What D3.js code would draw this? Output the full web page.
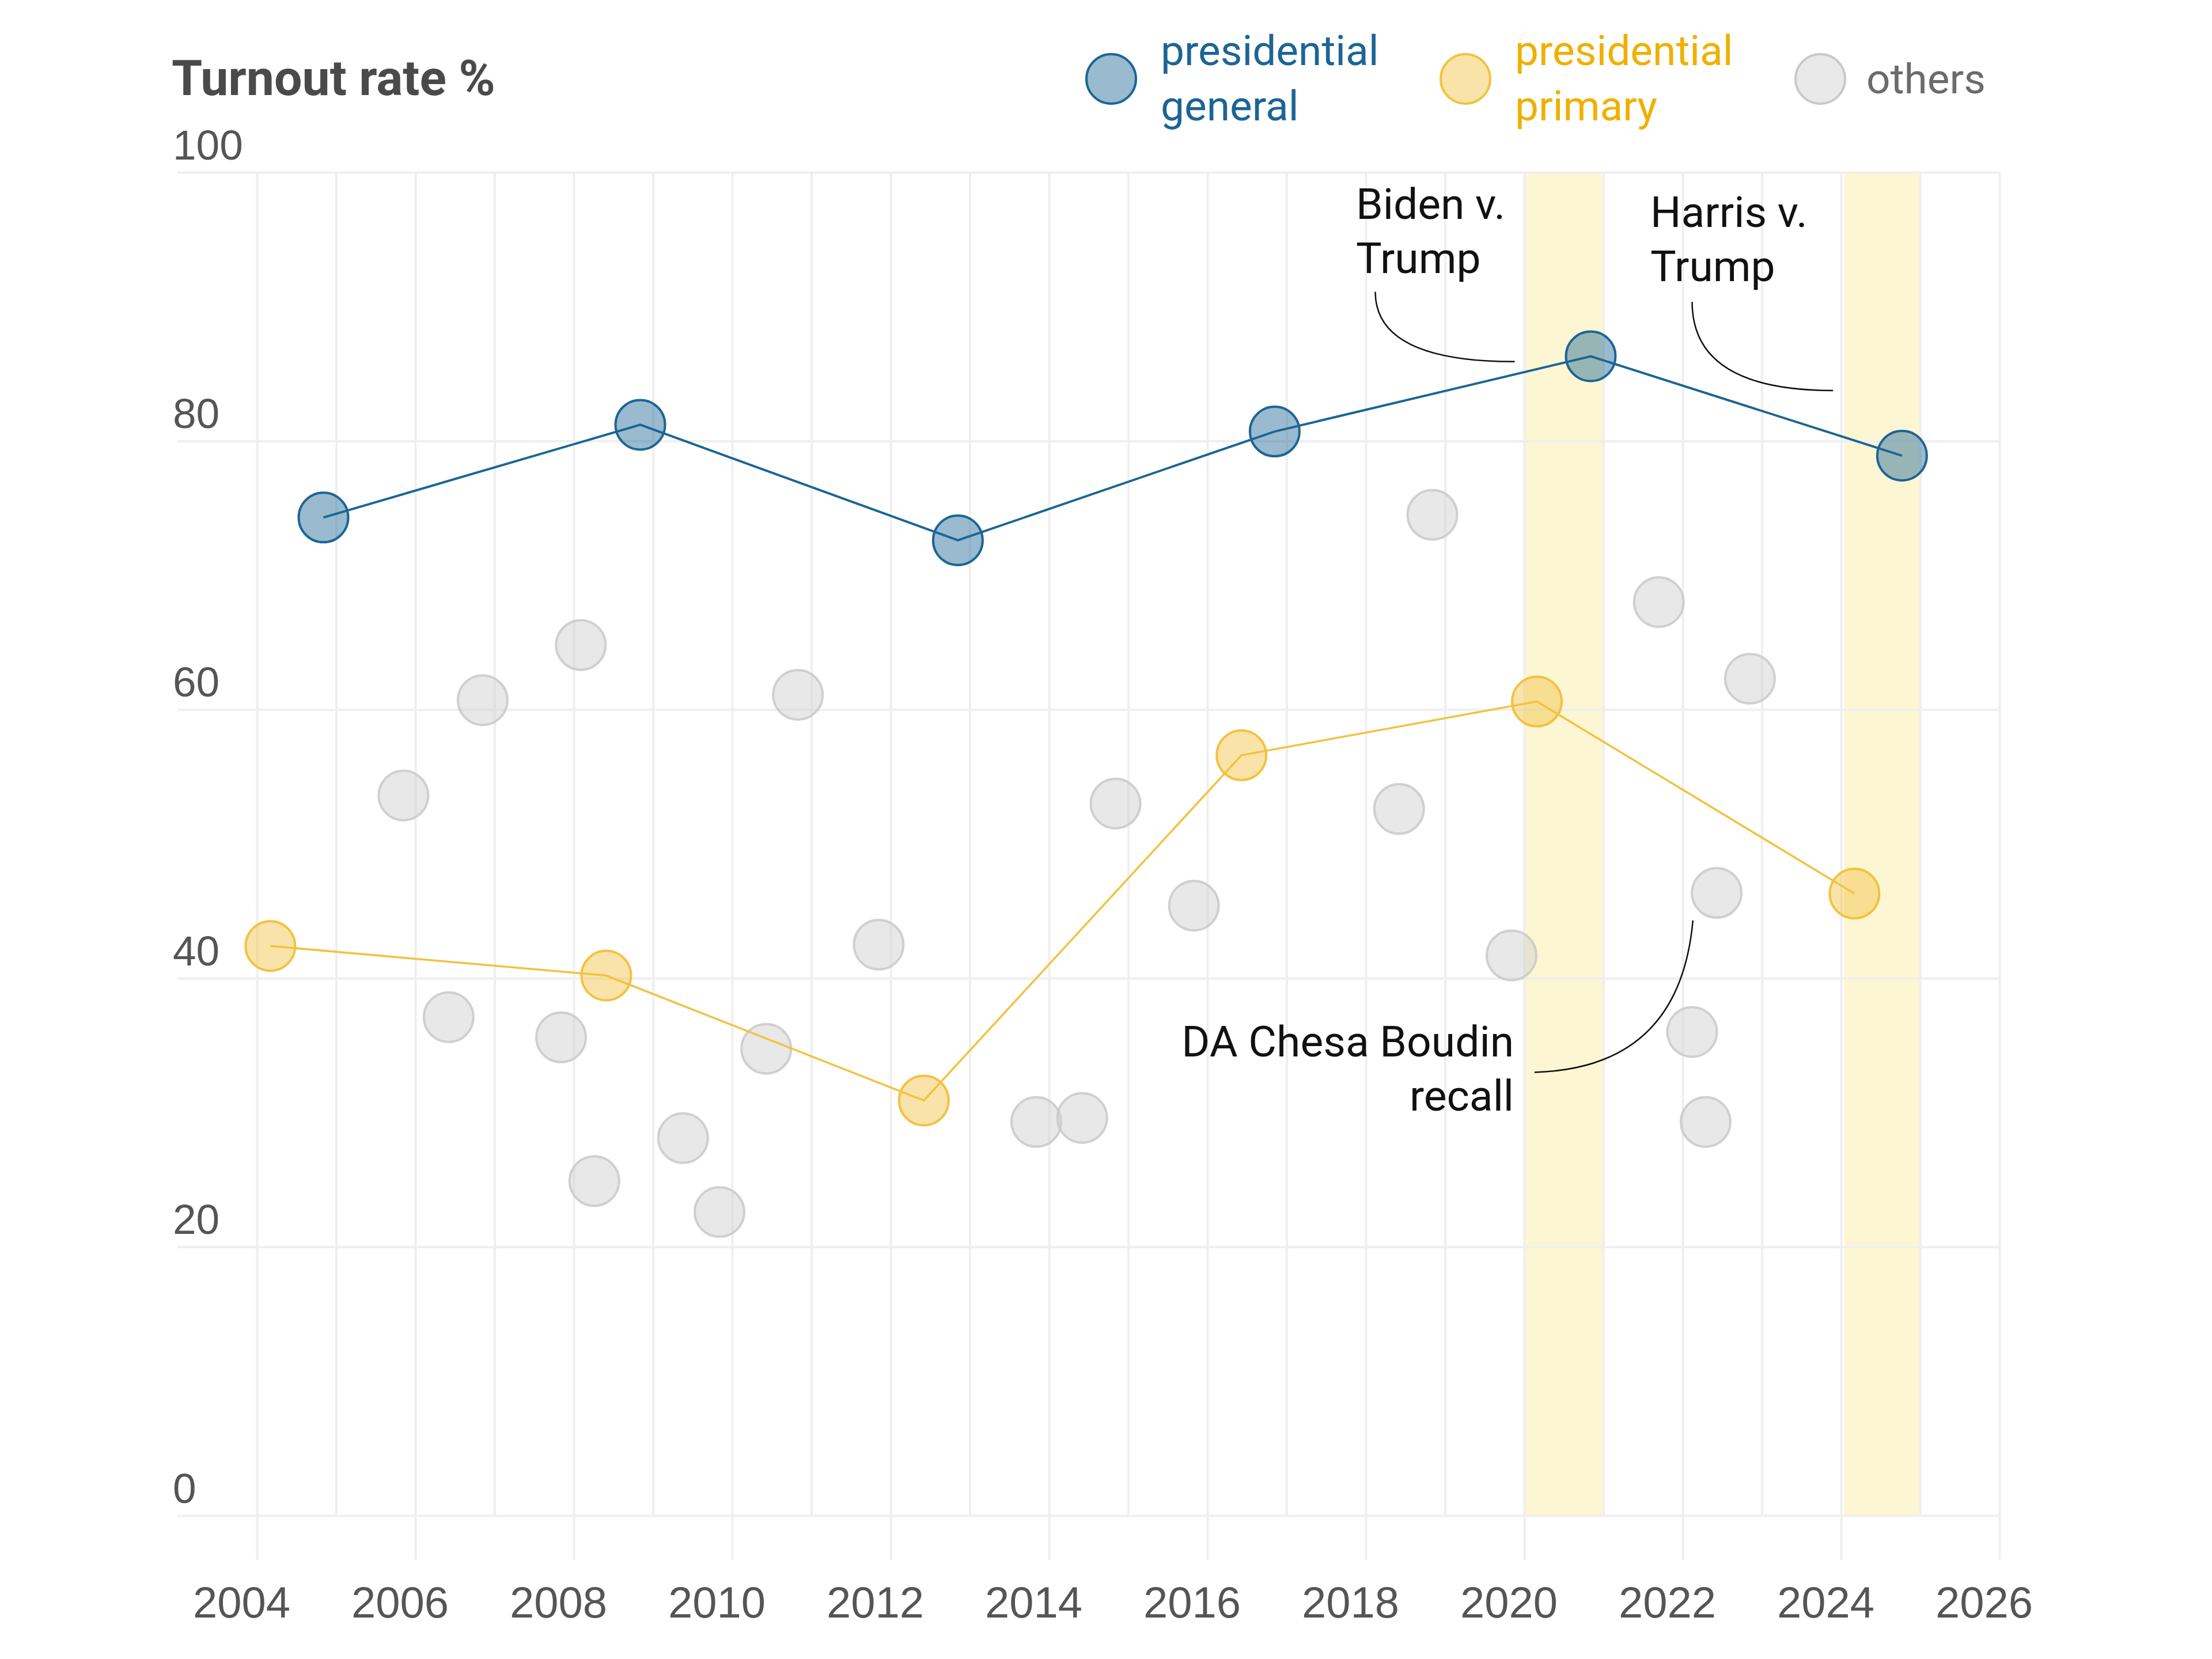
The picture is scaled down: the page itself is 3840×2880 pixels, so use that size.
<!DOCTYPE html>
<html>
<head>
<meta charset="utf-8">
<script src="https://cdn.jsdelivr.net/npm/d3@7"></script>
<style>
  body { margin: 0; background: #fff; }
  svg { font-family: Roboto, "Noto Sans", sans-serif; }
  .grid line { stroke: #efefef; stroke-width: 4; }
  .axis text { fill: #555; }
</style>
</head>
<body>
<div id="chart"></div>
<script>
// election dates as decimal years, turnout in %
var generalYears = [2004.84, 2008.84, 2012.85, 2016.85, 2020.84, 2024.77];
var generalTurnout = [74.3, 81.2, 72.6, 80.7, 86.3, 78.9];

var primaryYears = [2004.17, 2008.41, 2012.42, 2016.43, 2020.16, 2024.17];
var primaryTurnout = [42.4, 40.2, 30.9, 56.6, 60.6, 46.3];

var otherYears = [2005.85, 2006.42, 2006.85, 2007.84, 2008.09, 2008.26, 2009.38, 2009.84,
  2010.43, 2010.83, 2011.85, 2013.84, 2014.42, 2014.84, 2015.83, 2018.42, 2018.84,
  2019.84, 2021.70, 2022.12, 2022.29, 2022.43, 2022.85];
var otherTurnout = [53.6, 37.1, 60.7, 35.6, 64.8, 24.9, 28.1, 22.6,
  34.75, 61.1, 42.5, 29.3, 29.6, 53.0, 45.4, 52.6, 74.5,
  41.7, 68.0, 36.0, 29.3, 46.35, 62.3];

var highlightStart = [2020.0, 2024.04];
var highlightEnd = [2021.0, 2025.0];

var yTicks = [0, 20, 40, 60, 80, 100];
var xLabelTicks = d3.range(2004, 2027, 2);
var xGridTicks = d3.range(2004, 2027, 1);

var legendLabels = [["presidential", "general"], ["presidential", "primary"], ["others"]];

var W = 3840, H = 2880;
var margin = { top: 299, right: 369, bottom: 249, left: 446 };
var width = W - margin.left - margin.right,
  height = H - margin.top - margin.bottom;

var blue = "#1c6595", yellow = "#f2c240", yellowText = "#efb000", grey = "#c9c9c9";

var svg = d3.select("#chart").append("svg")
  .attr("width", W)
  .attr("height", H);

var g = svg.append("g")
  .attr("transform", "translate(" + margin.left + "," + margin.top + ")");

var x = d3.scaleLinear().domain([2004, 2026]).range([0, width]);
var y = d3.scaleLinear().domain([0, 100]).range([height, 0]);

// highlighted election years
g.selectAll(".band")
  .data(highlightStart)
  .enter().append("rect")
  .attr("class", "band")
  .attr("x", function (d) { return x(d); })
  .attr("width", function (d, i) { return x(highlightEnd[i]) - x(d); })
  .attr("y", y(100))
  .attr("height", y(0) - y(100))
  .attr("fill", "#fdf6d2");

// yearly vertical grid
g.append("g")
  .attr("class", "grid")
  .call(d3.axisBottom(x).tickValues(xGridTicks).tickSize(height).tickFormat(""))
  .call(function (s) { s.select(".domain").remove(); });

// horizontal grid + y labels
var yOver = 138;
var yAxis = g.append("g")
  .attr("class", "grid axis")
  .attr("transform", "translate(" + (-yOver) + ",0)")
  .call(d3.axisLeft(y).tickValues(yTicks).tickSize(-(width + yOver)))
  .call(function (s) { s.select(".domain").remove(); });
yAxis.selectAll("text")
  .attr("x", -8)
  .attr("dy", -23)
  .attr("text-anchor", "start")
  .attr("font-size", 73);

// x axis: ticks every two years below the baseline
var xAxis = g.append("g")
  .attr("class", "grid axis")
  .attr("transform", "translate(0," + height + ")")
  .call(d3.axisBottom(x).tickValues(xLabelTicks).tickSize(77).tickPadding(46).tickFormat(d3.format("d")))
  .call(function (s) { s.select(".domain").remove(); });
xAxis.selectAll("text")
  .attr("dx", -27)
  .attr("font-size", 76);

// others
var others = otherYears.map(function (d, i) { return { year: d, val: otherTurnout[i] }; });
g.selectAll(".other")
  .data(others)
  .enter().append("circle")
  .attr("class", "other")
  .attr("cx", function (d) { return x(d.year); })
  .attr("cy", function (d) { return y(d.val); })
  .attr("r", 43)
  .attr("fill", "#cfcfcf")
  .attr("fill-opacity", 0.48)
  .attr("stroke", grey)
  .attr("stroke-opacity", 0.85)
  .attr("stroke-width", 4);

var line = d3.line()
  .x(function (d) { return x(d.year); })
  .y(function (d) { return y(d.val); });

function series(years, vals, color, cls, lw) {
  var data = years.map(function (d, i) { return { year: d, val: vals[i] }; });
  g.append("path")
    .datum(data)
    .attr("fill", "none")
    .attr("stroke", color)
    .attr("stroke-width", lw)
    .attr("d", line);
  g.selectAll("." + cls)
    .data(data)
    .enter().append("circle")
    .attr("class", cls)
    .attr("cx", function (d) { return x(d.year); })
    .attr("cy", function (d) { return y(d.val); })
    .attr("r", 43)
    .attr("fill", color)
    .attr("fill-opacity", 0.45)
    .attr("stroke", color)
    .attr("stroke-width", 4);
}

series(primaryYears, primaryTurnout, yellow, "primary", 3.5);
series(generalYears, generalTurnout, blue, "general", 4);

// annotations (anchor in data units)
var notes = [
  { lines: ["Biden v.", "Trump"], tx: 2017.876, ty: 96.53, anchor: "start",
    from: [2018.12, 91.1], ctrl: [2018.12, 85.9], to: [2019.88, 85.9] },
  { lines: ["Harris v.", "Trump"], tx: 2021.593, ty: 95.93, anchor: "start",
    from: [2022.12, 90.35], ctrl: [2022.12, 83.75], to: [2023.90, 83.75] },
  { lines: ["DA Chesa Boudin", "recall"], tx: 2019.87, ty: 34.18, anchor: "end",
    from: [2020.13, 33.0], ctrl: [2021.96, 33.3], to: [2022.13, 44.3] }
];

notes.forEach(function (n) {
  var t = g.append("text")
    .attr("x", x(n.tx))
    .attr("y", y(n.ty))
    .attr("text-anchor", n.anchor)
    .attr("font-size", 75)
    .attr("fill", "#111");
  n.lines.forEach(function (l, i) {
    t.append("tspan").attr("x", x(n.tx)).attr("dy", i ? 94 : 0).text(l);
  });
  var p = d3.path();
  p.moveTo(x(n.from[0]), y(n.from[1]));
  p.quadraticCurveTo(x(n.ctrl[0]), y(n.ctrl[1]), x(n.to[0]), y(n.to[1]));
  g.append("path")
    .attr("d", p.toString())
    .attr("fill", "none")
    .attr("stroke", "#111")
    .attr("stroke-width", 2.5);
});

// title
svg.append("text")
  .attr("x", 298)
  .attr("y", 165)
  .attr("font-size", 86)
  .attr("font-weight", 700)
  .attr("fill", "#4a4a4a")
  .text("Turnout rate %");

// legend
var legendPos = [1929, 2544, 3160];
var legendFill = [blue, yellow, "#cfcfcf"];
var legendStroke = [blue, yellow, grey];
var legendText = [blue, yellowText, "#6b6b6b"];

var legend = svg.selectAll(".legend")
  .data(legendLabels)
  .enter().append("g")
  .attr("class", "legend")
  .attr("transform", function (d, i) { return "translate(" + legendPos[i] + ",137)"; });

legend.append("circle")
  .attr("r", 43)
  .attr("fill", function (d, i) { return legendFill[i]; })
  .attr("fill-opacity", 0.45)
  .attr("stroke", function (d, i) { return legendStroke[i]; })
  .attr("stroke-width", 4);

legend.append("text")
  .attr("x", function (d, i) { return i == 2 ? 80 : 86; })
  .attr("y", function (d) { return d.length > 1 ? -24 : 25; })
  .attr("font-size", 73)
  .attr("fill", function (d, i) { return legendText[i]; })
  .selectAll("tspan")
  .data(function (d) { return d; })
  .enter().append("tspan")
  .attr("x", function () { return d3.select(this.parentNode).attr("x"); })
  .attr("dy", function (d, i) { return i ? 96 : 0; })
  .text(function (d) { return d; });
</script>
</body>
</html>
